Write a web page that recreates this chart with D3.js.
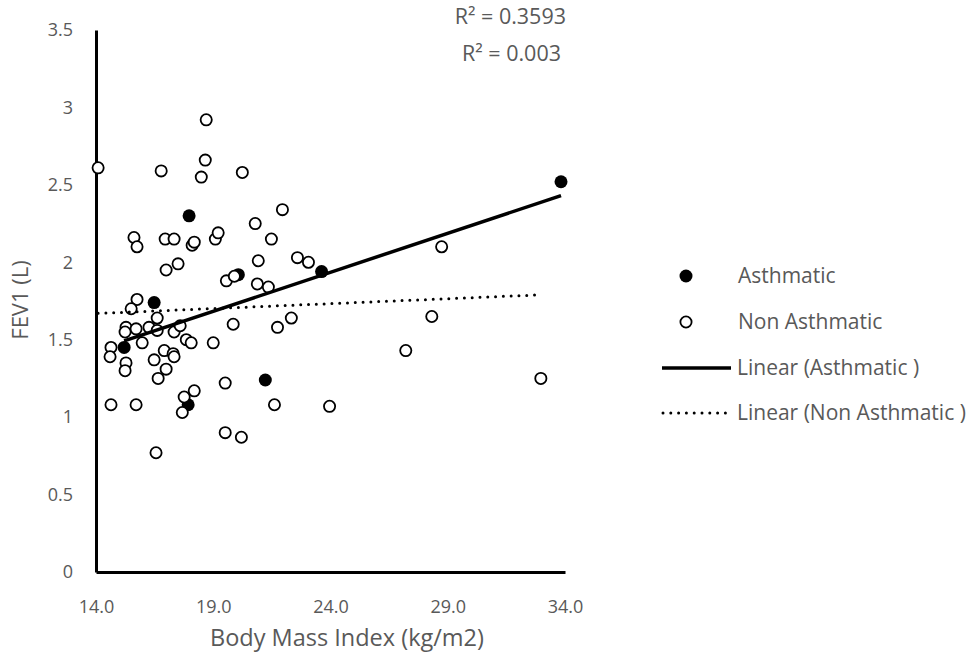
<!DOCTYPE html>
<html>
<head>
<meta charset="utf-8">
<script src="https://cdn.jsdelivr.net/npm/d3@7"></script>
<style>
  body { margin: 0; background: #fff; }
  text { font-family: "Open Sans", Lato, sans-serif; fill: #595959; }
</style>
</head>
<body>
<div id="chart"></div>
<script>
// data: [BMI, FEV1]
var asthmatic = [
  [16.48, 1.74], [15.20, 1.45], [17.97, 2.30], [20.07, 1.92],
  [23.62, 1.94], [21.22, 1.24], [17.93, 1.08], [33.83, 2.52]
];

var nonAsthmatic = [
  [14.09, 2.61], [16.78, 2.59], [18.70, 2.92], [18.66, 2.66], [18.49, 2.55],
  [20.24, 2.58], [15.62, 2.16], [15.75, 2.10], [16.95, 2.15], [17.33, 2.15],
  [18.10, 2.11], [18.19, 2.13], [19.09, 2.15], [19.21, 2.19], [20.79, 2.25],
  [20.92, 2.01], [21.95, 2.34], [21.48, 2.15], [22.59, 2.03], [23.06, 2.00],
  [16.99, 1.95], [17.50, 1.99], [19.56, 1.88], [19.90, 1.91], [20.88, 1.86],
  [21.35, 1.84], [15.75, 1.76], [15.50, 1.70], [16.61, 1.64], [15.28, 1.58],
  [15.24, 1.55], [15.71, 1.57], [16.26, 1.58], [16.61, 1.56], [17.33, 1.55],
  [17.59, 1.59], [17.85, 1.50], [18.06, 1.48], [19.00, 1.48], [19.85, 1.60],
  [21.74, 1.58], [22.33, 1.64], [14.64, 1.45], [14.60, 1.39], [15.97, 1.48],
  [15.28, 1.35], [15.24, 1.30], [16.48, 1.37], [16.91, 1.43], [17.29, 1.41],
  [17.33, 1.39], [16.99, 1.31], [16.65, 1.25], [19.51, 1.22], [18.19, 1.17],
  [17.76, 1.13], [17.68, 1.03], [14.64, 1.08], [15.71, 1.08], [19.51, 0.90],
  [20.20, 0.87], [16.56, 0.77], [21.61, 1.08], [23.96, 1.07], [28.74, 2.10],
  [28.32, 1.65], [27.21, 1.43], [32.97, 1.25]
];

var xTicks = [14, 19, 24, 29, 34];
var yTicks = [0, 0.5, 1, 1.5, 2, 2.5, 3, 3.5];
var r2Labels = ["R² = 0.3593", "R² = 0.003"];
var legendLabels = ["Asthmatic", "Non Asthmatic", "Linear (Asthmatic )", "Linear (Non Asthmatic )"];

var width = 972, height = 662;

var svg = d3.select("#chart").append("svg")
    .attr("width", width)
    .attr("height", height);

var x = d3.scaleLinear().domain([14, 34]).range([96, 565]);
var y = d3.scaleLinear().domain([0, 3.5]).range([572, 30]);

// least squares fit
function fit(pts) {
  var mx = d3.mean(pts, function(d) { return d[0]; });
  var my = d3.mean(pts, function(d) { return d[1]; });
  var sxy = d3.sum(pts, function(d) { return (d[0] - mx) * (d[1] - my); });
  var sxx = d3.sum(pts, function(d) { return (d[0] - mx) * (d[0] - mx); });
  var b = sxy / sxx, a = my - b * mx;
  var ext = d3.extent(pts, function(d) { return d[0]; });
  return ext.map(function(v) { return [v, a + b * v]; });
}

// axes
var xAxis = svg.append("g")
    .attr("transform", "translate(0," + y(0) + ")")
    .call(d3.axisBottom(x).tickValues(xTicks).tickSize(0).tickFormat(d3.format(".1f")));
xAxis.select(".domain").attr("stroke", "#000").attr("stroke-width", 3);
xAxis.selectAll("text").attr("y", 41).attr("dy", "0").style("font-size", "18px").attr("fill", "#595959");

var yAxis = svg.append("g")
    .attr("transform", "translate(" + x(14) + ",0)")
    .call(d3.axisLeft(y).tickValues(yTicks).tickSize(0).tickFormat(d3.format("")));
yAxis.select(".domain").attr("stroke", "#000").attr("stroke-width", 3);
yAxis.selectAll("text").attr("x", -23).style("font-size", "18px").attr("fill", "#595959");

// axis titles
svg.append("text")
    .attr("x", 347).attr("y", 646)
    .attr("text-anchor", "middle")
    .style("font-size", "23.5px")
    .text("Body Mass Index (kg/m2)");

svg.append("text")
    .attr("transform", "translate(28,300) rotate(-90)")
    .attr("text-anchor", "middle")
    .style("font-size", "22px")
    .text("FEV1 (L)");

// points
svg.append("g").selectAll("circle")
  .data(asthmatic)
  .enter().append("circle")
    .attr("cx", function(d) { return x(d[0]); })
    .attr("cy", function(d) { return y(d[1]); })
    .attr("r", 6.5)
    .attr("fill", "#000");

svg.append("g").selectAll("circle")
  .data(nonAsthmatic)
  .enter().append("circle")
    .attr("cx", function(d) { return x(d[0]); })
    .attr("cy", function(d) { return y(d[1]); })
    .attr("r", 5.6)
    .attr("fill", "#fff")
    .attr("stroke", "#000")
    .attr("stroke-width", 1.8);

// trend lines
var line = d3.line()
    .x(function(d) { return x(d[0]); })
    .y(function(d) { return y(d[1]); });

svg.append("path")
    .datum(fit(asthmatic))
    .attr("d", line)
    .attr("fill", "none")
    .attr("stroke", "#000")
    .attr("stroke-width", 3.5);

svg.append("path")
    .datum(fit(nonAsthmatic))
    .attr("d", line)
    .attr("fill", "none")
    .attr("stroke", "#000")
    .attr("stroke-width", 3)
    .attr("stroke-linecap", "round")
    .attr("stroke-dasharray", "0,7.8");

// R squared labels
svg.append("text")
    .attr("x", 566).attr("y", 24)
    .attr("text-anchor", "end")
    .style("font-size", "21.5px")
    .text(r2Labels[0]);

svg.append("text")
    .attr("x", 561).attr("y", 61)
    .attr("text-anchor", "end")
    .style("font-size", "21.5px")
    .text(r2Labels[1]);

// legend
var lg = svg.append("g");
var ly = [276, 322, 368, 413];

lg.append("circle").attr("cx", 686).attr("cy", ly[0]).attr("r", 6.5).attr("fill", "#000");
lg.append("circle").attr("cx", 686).attr("cy", ly[1]).attr("r", 5.6)
    .attr("fill", "#fff").attr("stroke", "#000").attr("stroke-width", 1.8);
lg.append("line").attr("x1", 662).attr("x2", 731).attr("y1", ly[2]).attr("y2", ly[2])
    .attr("stroke", "#000").attr("stroke-width", 3.5);
lg.append("line").attr("x1", 663).attr("x2", 731).attr("y1", ly[3]).attr("y2", ly[3])
    .attr("stroke", "#000").attr("stroke-width", 3)
    .attr("stroke-linecap", "round").attr("stroke-dasharray", "0,7.8");

lg.selectAll(".lbl")
  .data(legendLabels)
  .enter().append("text")
    .attr("class", "lbl")
    .attr("x", function(d, i) { return i < 2 ? 738 : 737; })
    .attr("y", function(d, i) { return ly[i]; })
    .attr("dy", "0.35em")
    .style("font-size", "21px")
    .text(function(d) { return d; });
</script>
</body>
</html>
